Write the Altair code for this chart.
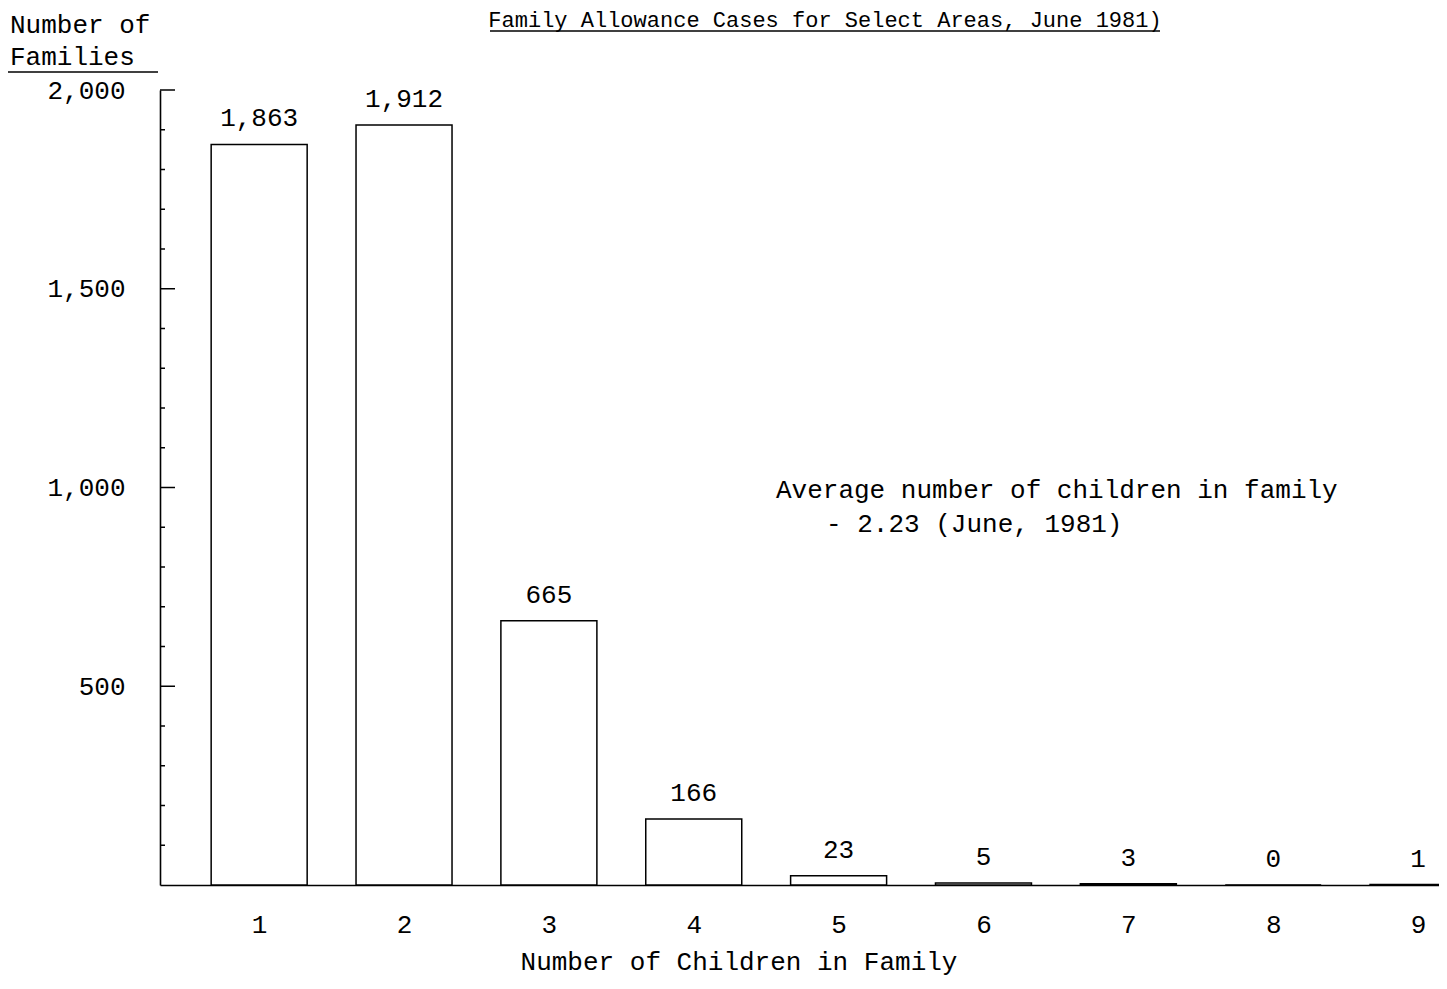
import altair as alt
import pandas as pd

# ---- data ----
children = [1, 2, 3, 4, 5, 6, 7, 8, 9]
families = [1863, 1912, 665, 166, 23, 5, 3, 0, 1]
value_labels = ["1,863", "1,912", "665", "166", "23", "5", "3", "0", "1"]
y_major = [500, 1000, 1500, 2000]
y_minor = [100, 200, 300, 400, 600, 700, 800, 900, 1100, 1200, 1300, 1400,
           1600, 1700, 1800, 1900]

title_text = "Family Allowance Cases for Select Areas, June 1981)"
y_title_lines = ["Number of", "Families"]
x_title_text = "Number of Children in Family"
note_lines = ["Average number of children in family", "- 2.23 (June, 1981)"]

FONT = "Liberation Mono"
FS = 26
W, H = 1279, 795

df = pd.DataFrame({"n": children, "v": families, "lab": value_labels})
xs = alt.Scale(domain=[0.35, 9.11], nice=False, zero=False)
ys = alt.Scale(domain=[0, 2000], nice=False)

x_axis = alt.Axis(values=children, format="d", title=None, grid=False,
                  ticks=False, labelFont=FONT, labelFontSize=FS, labelColor="black",
                  labelPadding=26, domainColor="black", domainWidth=1.6,
                  labelFlush=False)
y_axis = alt.Axis(values=y_major, format=",d", title=None, grid=False,
                  ticks=False, labelFont=FONT, labelFontSize=FS, labelColor="black",
                  labelPadding=35, domainColor="black", domainWidth=1.6,
                  labelBaseline="middle")

bars = alt.Chart(df).mark_bar(size=96, fill="white", stroke="black",
                              strokeWidth=1.5, clip=True).encode(
    x=alt.X("n:Q", scale=xs, axis=x_axis),
    y=alt.Y("v:Q", scale=ys, axis=y_axis),
)

labels = alt.Chart(df).mark_text(font=FONT, fontSize=FS, baseline="bottom",
                                 dy=-13, color="black").encode(
    x=alt.X("n:Q", scale=xs, axis=x_axis),
    y=alt.Y("v:Q", scale=ys, axis=y_axis),
    text="lab:N",
)

minor = alt.Chart(pd.DataFrame({"t": y_minor})).mark_rule(
    color="black", strokeWidth=1.5).encode(
    y=alt.Y("t:Q", scale=ys, axis=y_axis), x=alt.value(0), x2=alt.value(5))

major = alt.Chart(pd.DataFrame({"t": y_major})).mark_rule(
    color="black", strokeWidth=1.5).encode(
    y=alt.Y("t:Q", scale=ys, axis=y_axis), x=alt.value(0), x2=alt.value(15))

one = pd.DataFrame({"k": [0]})


def txt(s, x, y, size=FS, align="left"):
    return alt.Chart(one).mark_text(text=s, font=FONT, fontSize=size, align=align,
                                    baseline="alphabetic", color="black").encode(
        x=alt.value(x), y=alt.value(y))


def line(x1, x2, y):
    return alt.Chart(one).mark_rule(color="black", strokeWidth=1.6).encode(
        x=alt.value(x1), x2=alt.value(x2), y=alt.value(y))


annos = [
    txt(title_text, 665, -63, size=22, align="center"),
    line(330, 1000, -59),
    txt(y_title_lines[0], -150, -57),
    txt(y_title_lines[1], -150, -25),
    line(-152, -2, -18),
    txt(note_lines[0], 616, 408),
    txt(note_lines[1], 666, 442),
    txt(x_title_text, 579, 880, align="center"),
]

chart = alt.layer(bars, labels, minor, major, *annos).properties(
    width=W, height=H,
    autosize=alt.AutoSizeParams(type="none"),
    padding={"left": 152, "top": 82, "right": 0, "bottom": 92},
    background="white",
).configure_view(stroke=None)

chart.save("out.html", embed_options={"renderer": "svg", "actions": False})
